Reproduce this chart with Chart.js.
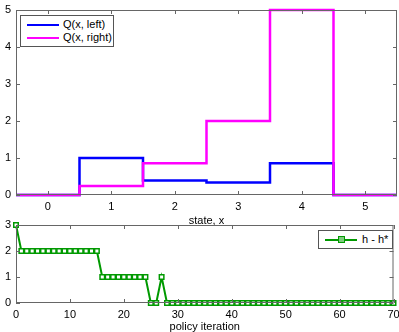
<!DOCTYPE html>
<html lang="en">
<head>
<meta charset="UTF-8">
<title>Q and policy iteration</title>
<script src="https://cdn.jsdelivr.net/npm/chart.js"></script>
<style>
    body { margin: 0; background: #fff; font-family: "Liberation Sans", Arial, sans-serif; }
    #wrap { position: relative; width: 399px; height: 332px; overflow: hidden; }
    canvas { position: absolute; left: 0; }
    #topChart { top: 0; }
    #botChart { top: 207px; }
    .legend { position: absolute; background: #fff; border: 1px solid #555; font-size: 11px; color: #000; }
    .row { position: absolute; left: 0; height: 13px; line-height: 13px; white-space: nowrap; }
    .swatch { position: absolute; height: 2px; }
    .mk { position: absolute; width: 5px; height: 5px; border: 1px solid #009900; background: #7fcc7f; }
</style>
</head>
<body>
<div id="wrap">
    <canvas id="topChart" width="399" height="225"></canvas>
    <canvas id="botChart" width="399" height="125"></canvas>

    <div class="legend" style="left:20px; top:15px; width:92px; height:30px;">
        <div class="row" style="top:2px;"><span class="swatch" style="left:6px; top:6px; width:32px; background:#0000ff;"></span><span style="position:absolute; left:42px;">Q(x, left)</span></div>
        <div class="row" style="top:15px;"><span class="swatch" style="left:6px; top:6px; width:32px; background:#ff00ff;"></span><span style="position:absolute; left:42px;">Q(x, right)</span></div>
    </div>
    <div class="legend" style="left:318px; top:230px; width:73px; height:17px;">
        <div class="row" style="top:2px;"><span class="swatch" style="left:6px; top:6px; width:32px; background:#009900;"></span><span class="mk" style="left:19px; top:3px;"></span><span style="position:absolute; left:43px;">h - h*</span></div>
    </div>
</div>

<script>
    // top panel: Q values, one value per state interval
    const stateEdges = [-0.5, 0.5, 1.5, 2.5, 3.5, 4.5, 5.5];
    const qLeft  = [0, 1.0, 0.39, 0.34, 0.86, 0, 0];
    const qRight = [0, 0.24, 0.86, 2.0, 5.0, 0, 0];
    const stateTicks = [0, 1, 2, 3, 4, 5];
    const qTicks = [0, 1, 2, 3, 4, 5];

    // bottom panel: h - h* per policy iteration (0..70)
    const hErr = [3,
        2, 2, 2, 2, 2, 2, 2, 2, 2, 2, 2, 2, 2, 2, 2,
        1, 1, 1, 1, 1, 1, 1, 1, 1,
        0, 0,
        1,
        0, 0, 0, 0, 0, 0, 0, 0, 0, 0, 0, 0, 0, 0, 0, 0, 0, 0, 0, 0, 0, 0,
        0, 0, 0, 0, 0, 0, 0, 0, 0, 0, 0, 0, 0, 0, 0, 0, 0, 0, 0, 0, 0, 0, 0];
    const iterTicks = [0, 10, 20, 30, 40, 50, 60, 70];
    const errTicks = [0, 1, 2, 3];

    const FONT = { family: "'Liberation Sans', Arial, sans-serif", size: 11 };

    // matlab style box with ticks pointing inwards
    const boxPlugin = {
        id: 'box',
        afterDraw(chart) {
            const ctx = chart.ctx, a = chart.chartArea;
            ctx.save();
            ctx.strokeStyle = '#666';
            ctx.lineWidth = 1;
            ctx.strokeRect(a.left + 0.5, a.top + 0.5, a.right - a.left - 1, a.bottom - a.top - 1);
            ctx.beginPath();
            chart.scales.x.ticks.forEach(t => {
                const px = Math.round(chart.scales.x.getPixelForValue(t.value)) + 0.5;
                ctx.moveTo(px, a.bottom); ctx.lineTo(px, a.bottom - 4);
                ctx.moveTo(px, a.top); ctx.lineTo(px, a.top + 4);
            });
            chart.scales.y.ticks.forEach(t => {
                const py = Math.round(chart.scales.y.getPixelForValue(t.value)) + 0.5;
                ctx.moveTo(a.left, py); ctx.lineTo(a.left + 4, py);
                ctx.moveTo(a.right, py); ctx.lineTo(a.right - 4, py);
            });
            ctx.stroke();
            ctx.restore();
        }
    };

    function xScale(min, max, tickList, title, h, titleShift) {
        return {
            type: 'linear', min: min, max: max,
            afterBuildTicks: s => { s.ticks = tickList.map(v => ({ value: v })); },
            afterFit: s => { s.height = h; s.paddingLeft = 0; s.paddingRight = 0; },
            grid: { display: false, drawTicks: false },
            border: { display: false },
            ticks: { font: FONT, color: '#000', padding: 5, maxRotation: 0, autoSkip: false },
            title: { display: true, text: title, font: FONT, color: '#000', padding: { top: 0, bottom: -titleShift } }
        };
    }
    function yScale(min, max, tickList) {
        return {
            type: 'linear', min: min, max: max,
            afterBuildTicks: s => { s.ticks = tickList.map(v => ({ value: v })); },
            afterFit: s => { s.width = 16; s.paddingTop = 0; s.paddingBottom = 0; },
            grid: { display: false, drawTicks: false },
            border: { display: false },
            ticks: { font: FONT, color: '#000', padding: 5, autoSkip: false }
        };
    }

    new Chart(document.getElementById('topChart'), {
        type: 'line',
        data: {
            datasets: [
                { label: 'Q(x, left)', data: stateEdges.map((x, i) => ({ x: x, y: qLeft[i] })),
                  borderColor: '#0000ff', borderWidth: 2.5, pointRadius: 0, stepped: 'before', order: 1, clip: 3 },
                { label: 'Q(x, right)', data: stateEdges.map((x, i) => ({ x: x, y: qRight[i] })),
                  borderColor: '#ff00ff', borderWidth: 2.5, pointRadius: 0, stepped: 'before', order: 0, clip: 3 }
            ]
        },
        options: {
            responsive: false, animation: false,
            layout: { padding: { left: 0, right: 2, top: 10, bottom: 0 } },
            plugins: { legend: { display: false }, tooltip: { enabled: false } },
            scales: { x: xScale(-0.5, 5.5, stateTicks, 'state, x', 30, 3), y: yScale(0, 5, qTicks) }
        },
        plugins: [boxPlugin]
    });

    new Chart(document.getElementById('botChart'), {
        type: 'line',
        data: {
            datasets: [{
                label: 'h - h*',
                data: hErr.map((v, i) => ({ x: i, y: v })),
                borderColor: '#009900', borderWidth: 2,
                pointStyle: 'rect', pointRadius: 3.2, pointBorderWidth: 1.5,
                pointBorderColor: '#009900', pointBackgroundColor: '#ffffff',
                clip: 6
            }]
        },
        options: {
            responsive: false, animation: false,
            layout: { padding: { left: 0, right: 2, top: 18, bottom: 0 } },
            plugins: { legend: { display: false }, tooltip: { enabled: false } },
            scales: { x: xScale(0, 70, iterTicks, 'policy iteration', 29, 2), y: yScale(0, 3, errTicks) }
        },
        plugins: [boxPlugin]
    });
</script>
</body>
</html>
